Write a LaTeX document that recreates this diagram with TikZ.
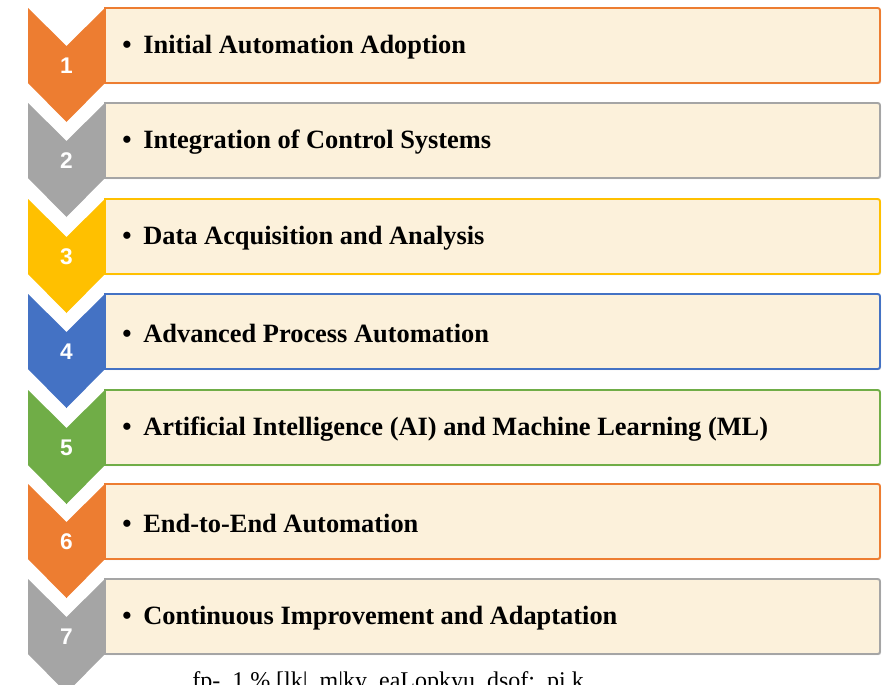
\documentclass[tikz,border=0pt]{standalone}
\usepackage{fontspec}
\setmainfont{Liberation Serif}
\newfontfamily\numfont{Liberation Sans}
\usetikzlibrary{shadows}

\definecolor{stepOrange}{RGB}{237,125,49}
\definecolor{stepGrey}{RGB}{165,165,165}
\definecolor{stepGold}{RGB}{255,192,0}
\definecolor{stepBlue}{RGB}{68,114,196}
\definecolor{stepGreen}{RGB}{112,173,71}
\definecolor{boxCream}{RGB}{252,241,219}

\begin{document}
\begin{tikzpicture}[x=0.75pt,y=0.75pt,yscale=-1,
  chev/.style={fill=#1, draw=none},
  bar/.style={draw=#1, line width=1.4pt, fill=boxCream,
    drop shadow={shadow xshift=0.8pt, shadow yshift=-0.8pt, opacity=0.25}},
  num/.style={font=\numfont\bfseries\fontsize{17}{17}\selectfont, text=white},
  item/.style={anchor=west, inner sep=0pt, font=\bfseries\fontsize{19.8}{20}\selectfont}]
\useasboundingbox (0,0) rectangle (892,685);
\clip (0,0) rectangle (892,685);

%Step 1
\draw [bar=stepOrange] (105,8) -- (875,8) .. controls (880,8) .. (880,13) -- (880,78) .. controls (880,83) .. (875,83) -- (105,83) -- cycle;
\fill [chev=stepOrange] (28,8) -- (66.5,46) -- (105,8) -- (105,83) -- (66.5,122) -- (28,83) -- cycle;
\node [num] (n1) at (66.5,66) {1};
% Text Node
\node [item] (t1) at (122,47) {\textbullet\hspace{0.45em}Initial Automation Adoption};

%Step 2
\draw [bar=stepGrey] (105,103) -- (875,103) .. controls (880,103) .. (880,108) -- (880,173) .. controls (880,178) .. (875,178) -- (105,178) -- cycle;
\fill [chev=stepGrey] (28,103) -- (66.5,141) -- (105,103) -- (105,178) -- (66.5,217) -- (28,178) -- cycle;
\node [num] (n2) at (66.5,161) {2};
% Text Node
\node [item] (t2) at (122,142) {\textbullet\hspace{0.45em}Integration of Control Systems};

%Step 3
\draw [bar=stepGold] (105,199) -- (875,199) .. controls (880,199) .. (880,204) -- (880,269) .. controls (880,274) .. (875,274) -- (105,274) -- cycle;
\fill [chev=stepGold] (28,199) -- (66.5,237) -- (105,199) -- (105,274) -- (66.5,313) -- (28,274) -- cycle;
\node [num] (n3) at (66.5,257) {3};
% Text Node
\node [item] (t3) at (122,238) {\textbullet\hspace{0.45em}Data Acquisition and Analysis};

%Step 4
\draw [bar=stepBlue] (105,294) -- (875,294) .. controls (880,294) .. (880,299) -- (880,364) .. controls (880,369) .. (875,369) -- (105,369) -- cycle;
\fill [chev=stepBlue] (28,294) -- (66.5,332) -- (105,294) -- (105,369) -- (66.5,408) -- (28,369) -- cycle;
\node [num] (n4) at (66.5,352) {4};
% Text Node
\node [item] (t4) at (122,333) {\textbullet\hspace{0.45em}Advanced Process Automation};

%Step 5
\draw [bar=stepGreen] (105,390) -- (875,390) .. controls (880,390) .. (880,395) -- (880,460) .. controls (880,465) .. (875,465) -- (105,465) -- cycle;
\fill [chev=stepGreen] (28,390) -- (66.5,428) -- (105,390) -- (105,465) -- (66.5,504) -- (28,465) -- cycle;
\node [num] (n5) at (66.5,448) {5};
% Text Node
\node [item] (t5) at (122,429) {\textbullet\hspace{0.45em}Artificial Intelligence (AI) and Machine Learning (ML)};

%Step 6
\draw [bar=stepOrange] (105,484) -- (875,484) .. controls (880,484) .. (880,489) -- (880,554) .. controls (880,559) .. (875,559) -- (105,559) -- cycle;
\fill [chev=stepOrange] (28,484) -- (66.5,522) -- (105,484) -- (105,559) -- (66.5,598) -- (28,559) -- cycle;
\node [num] (n6) at (66.5,542) {6};
% Text Node
\node [item] (t6) at (122,523) {\textbullet\hspace{0.45em}End-to-End Automation};

%Step 7
\draw [bar=stepGrey] (105,579) -- (875,579) .. controls (880,579) .. (880,584) -- (880,649) .. controls (880,654) .. (875,654) -- (105,654) -- cycle;
\fill [chev=stepGrey] (28,579) -- (66.5,617) -- (105,579) -- (105,654) -- (66.5,693) -- (28,654) -- cycle;
\node [num] (n7) at (66.5,637) {7};
% Text Node
\node [item] (t7) at (122,618) {\textbullet\hspace{0.45em}Continuous Improvement and Adaptation};

% Caption (cut at the page edge)
\node [anchor=base west, inner sep=0pt, font=\fontsize{18}{18}\selectfont] (cap) at (192,688) {fp-\ \ 1\ \%\ [lk|\ \ m|ky\ \ eaLopkyu\ \ dsof;\ \ pi\ k};

\end{tikzpicture}
\end{document}
